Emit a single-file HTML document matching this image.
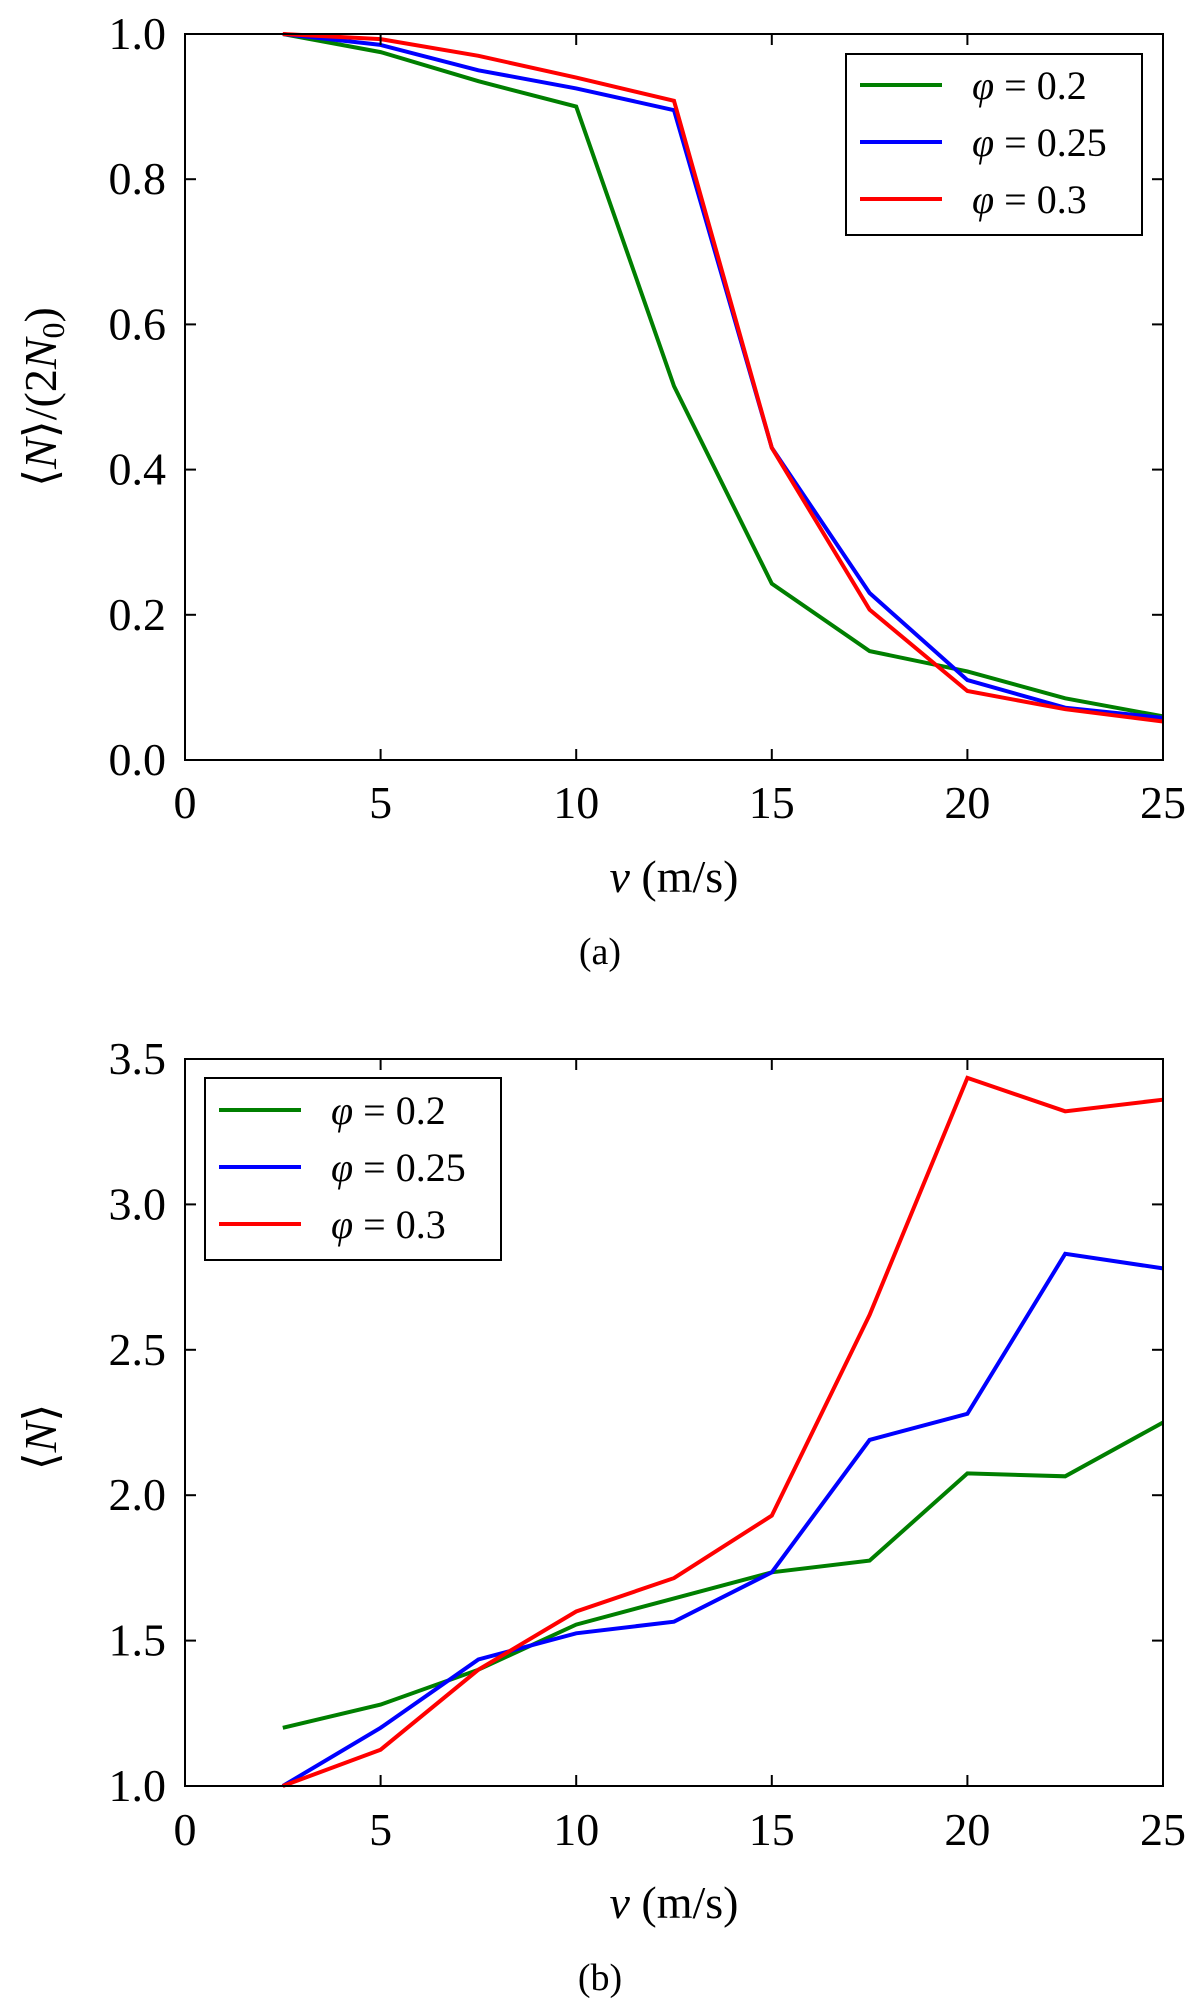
<!DOCTYPE html>
<html><head><meta charset="utf-8"><style>
html,body{margin:0;padding:0;background:#fff;}
svg{display:block;}
text{font-family:"Liberation Serif","DejaVu Serif",serif;fill:#000;}
</style></head><body>
<svg id="fig" width="1200" height="2001" viewBox="0 0 1200 2001" xmlns="http://www.w3.org/2000/svg"></svg>
<script>
const vCats=[2.5,5,7.5,10,12.5,15,17.5,20,22.5,25];
const aGreen=[1.0,0.975,0.935,0.9,0.515,0.243,0.15,0.122,0.085,0.06];
const aBlue=[1.0,0.985,0.95,0.925,0.895,0.43,0.23,0.11,0.072,0.058];
const aRed=[1.0,0.993,0.97,0.94,0.908,0.43,0.207,0.095,0.07,0.053];
const bGreen=[1.2,1.28,1.4,1.555,1.645,1.735,1.775,2.075,2.065,2.25];
const bBlue=[1.0,1.2,1.435,1.525,1.565,1.735,2.19,2.28,2.83,2.78];
const bRed=[1.0,1.125,1.4,1.6,1.715,1.93,2.62,3.435,3.32,3.36];
const xTicks=[0,5,10,15,20,25];
const aYTicks=["0.0","0.2","0.4","0.6","0.8","1.0"];
const bYTicks=["1.0","1.5","2.0","2.5","3.0","3.5"];
const seriesNames=["φ = 0.2","φ = 0.25","φ = 0.3"];
const colors=["#007f00","#0000ff","#ff0000"];

const NS="http://www.w3.org/2000/svg";
const svg=document.getElementById('fig');
function mk(tag,attrs,parent){const e=document.createElementNS(NS,tag);for(const k in attrs)e.setAttribute(k,attrs[k]);(parent||svg).appendChild(e);return e;}

function panel(p){
  const g=mk('g',{});
  
  
  const L=185,R=1163,T=p.top,B=p.bottom;
  const xs=v=>L+(v-0)/(25-0)*(R-L);
  const ys=v=>B-(v-p.ymin)/(p.ymax-p.ymin)*(B-T);
  p.series.forEach((s,i)=>{
    const pts=vCats.map((v,j)=>xs(v).toFixed(1)+','+ys(s[j]).toFixed(1)).join(' ');
    const pl=mk('polyline',{points:pts,fill:'none',stroke:colors[i],'stroke-width':4,'stroke-linejoin':'miter'},g);
    
    
  });
  const fr=mk('rect',{x:L,y:T,width:R-L,height:B-T,fill:'none',stroke:'#000','stroke-width':2},g);
  
  
  xTicks.forEach(t=>{
    const x=xs(t);
    mk('line',{x1:x,y1:B,x2:x,y2:B-11,stroke:'#000','stroke-width':2},g);
    mk('line',{x1:x,y1:T,x2:x,y2:T+11,stroke:'#000','stroke-width':2},g);
    const tx=mk('text',{x:x,y:p.xTickY,'text-anchor':'middle','font-size':46},g);
    tx.textContent=t;
    
    
  });
  p.yTicks.forEach(t=>{
    const y=ys(parseFloat(t));
    mk('line',{x1:L,y1:y,x2:L+11,y2:y,stroke:'#000','stroke-width':2},g);
    mk('line',{x1:R,y1:y,x2:R-11,y2:y,stroke:'#000','stroke-width':2},g);
    const tx=mk('text',{x:166,y:y+15,'text-anchor':'end','font-size':46},g);
    tx.textContent=t;
    
    
  });
  const xl=mk('text',{x:674,y:p.xLabelY,'text-anchor':'middle','font-size':46},g);
  xl.innerHTML='<tspan font-style="italic">v</tspan> (m/s)';
  
  
  const yl=mk('text',{x:0,y:0,'text-anchor':'middle','font-size':46,transform:`translate(56,${p.yLabelY}) rotate(-90)`},g);
  yl.innerHTML=p.yLabel;
  
  
  const cap=mk('text',{x:600,y:p.capY,'text-anchor':'middle','font-size':38},g);
  cap.textContent=p.cap;
  
  
  const lg=mk('g',{},g);
  
  
  const lx=p.legX,ly=p.legY;
  mk('rect',{x:lx,y:ly,width:296,height:p.legH,fill:'#fff',stroke:'#000','stroke-width':2},lg);
  seriesNames.forEach((n,i)=>{
    const ry=ly+p.legRow0+i*p.legStep;
    const ln=mk('line',{x1:lx+14,y1:ry,x2:lx+96,y2:ry,stroke:colors[i],'stroke-width':4},lg);
    
    
    const tx=mk('text',{x:lx+126,y:ry+14,'font-size':40},lg);
    tx.innerHTML='<tspan font-style="italic">φ</tspan> = '+n.split('= ')[1];
    
    
  });
}
panel({name:'panel-a',top:34,bottom:760,ymin:0,ymax:1,series:[aGreen,aBlue,aRed],yTicks:aYTicks,
  xTickY:818,xLabelY:892,yLabelY:397,capY:964,cap:'(a)',
  yLabel:'⟨<tspan font-style="italic">N</tspan>⟩/(2<tspan font-style="italic">N</tspan><tspan font-size="32" dy="8">0</tspan><tspan dy="-8">)</tspan>',
  legX:846,legY:54,legH:181,legRow0:31,legStep:57});
panel({name:'panel-b',top:1059,bottom:1786,ymin:1,ymax:3.5,series:[bGreen,bBlue,bRed],yTicks:bYTicks,
  xTickY:1845,xLabelY:1918,yLabelY:1437,capY:1990,cap:'(b)',
  yLabel:'⟨<tspan font-style="italic">N</tspan>⟩',
  legX:205,legY:1078,legH:182,legRow0:32,legStep:57});
</script>
</body></html>
